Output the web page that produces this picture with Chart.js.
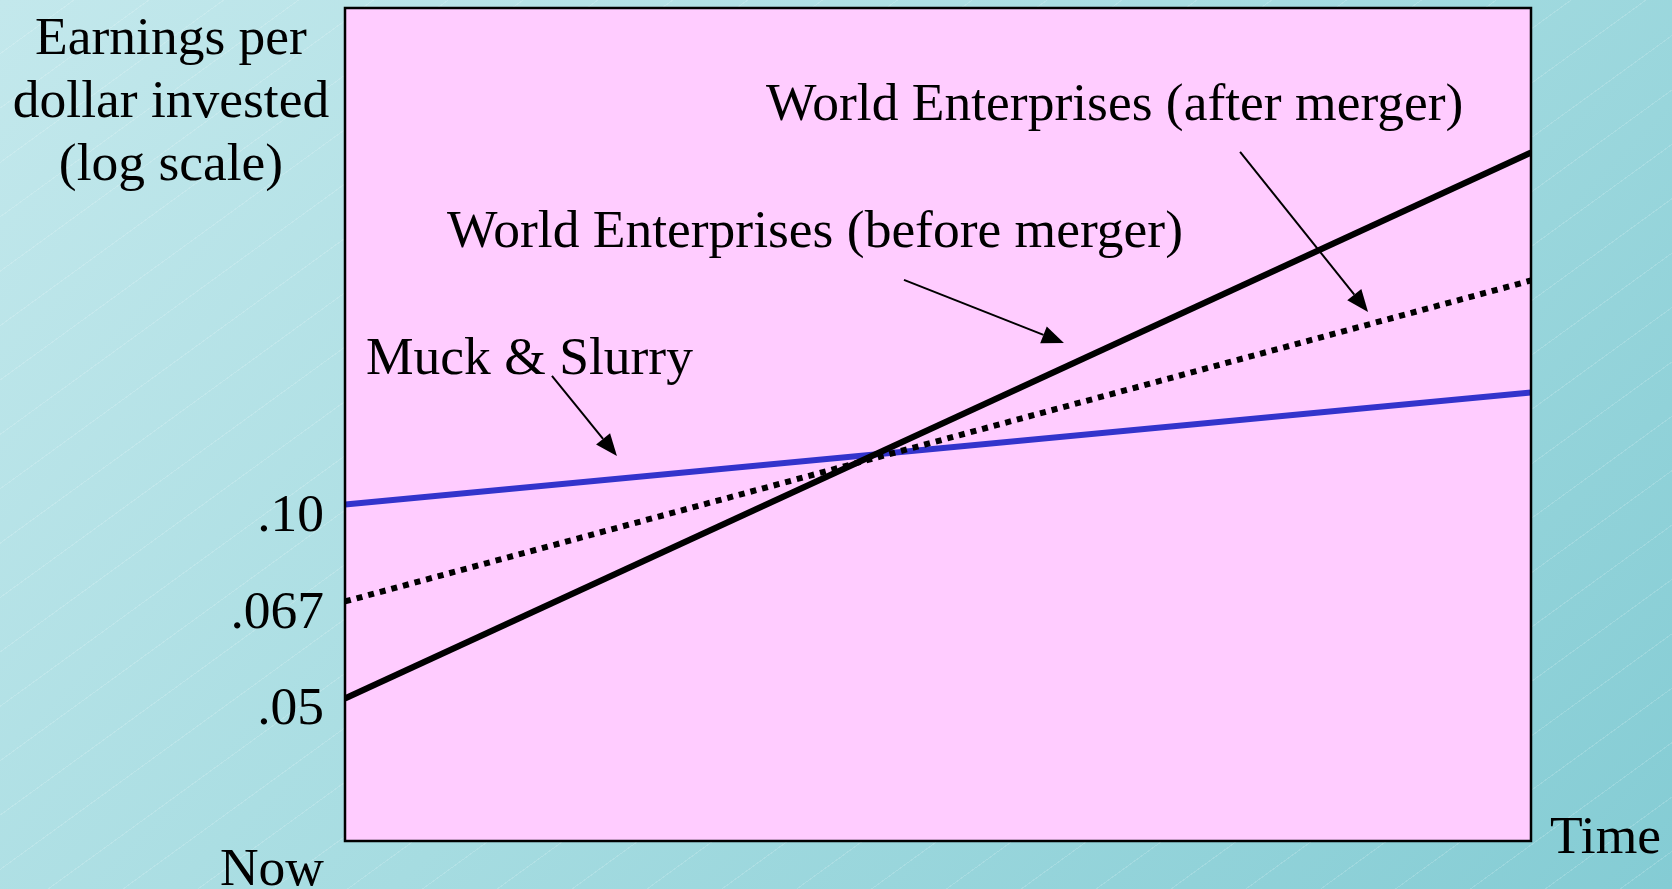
<!DOCTYPE html>
<html>
<head>
<meta charset="utf-8">
<script src="https://cdn.jsdelivr.net/npm/chart.js@4.4.0/dist/chart.umd.min.js"></script>
<style>
  html, body { margin: 0; padding: 0; }
  body {
    width: 1672px; height: 889px; overflow: hidden;
    background:
      repeating-linear-gradient(144deg, rgba(255,255,255,0) 0px, rgba(255,255,255,0) 43px, rgba(255,255,255,0.16) 43px, rgba(255,255,255,0.16) 44px),
      linear-gradient(135deg, #c3e8ec 0%, #a6dce1 50%, #84ccd4 100%);
  }
  #chart { display: block; }
</style>
</head>
<body>
<canvas id="chart" width="1672" height="889"></canvas>
<script>
// time axis runs from "Now" (0) to "Time" (10)
const xValues = [0, 10];
// log-earnings levels, one step per tick label
const afterMerger = [1, 6.63];
const beforeMerger = [2, 5.31];
const muckSlurry = [3, 4.156];
const yTickValues = [1, 2, 3];
const yTickLabels = [".05", ".067", ".10"];

const titleLines = ["Earnings per", "dollar invested", "(log scale)"];

// annotation labels, in data units (left edge, baseline)
const noteTexts = ["World Enterprises (after merger)", "World Enterprises (before merger)", "Muck & Slurry"];
const noteX = [3.55, 0.86, 0.177];
const noteY = [6.97, 5.651, 4.346];

// arrows: from (x0,y0) to tip (x1,y1), data units
const arrowFrom = [[7.547, 6.636], [4.713, 5.316], [1.745, 4.326]];
const arrowTo = [[8.626, 4.986], [6.062, 4.666], [2.293, 3.501]];

const FONT = "'Liberation Serif', 'Times New Roman', serif";

const toPoints = (vals) => xValues.map((x, i) => ({ x: x, y: vals[i] }));

// =============================
// plot box, texts and arrows
// =============================
const decorPlugin = {
  id: "decor",
  beforeDatasetsDraw(chart) {
    const { ctx, chartArea: a } = chart;
    ctx.save();
    ctx.fillStyle = "#ffccff";
    ctx.fillRect(a.left, a.top, a.right - a.left, a.bottom - a.top);
    ctx.restore();
  },
  afterDatasetsDraw(chart) {
    const { ctx, chartArea: a, scales } = chart;
    const xs = scales.x, ys = scales.y;
    ctx.save();

    // frame
    ctx.strokeStyle = "#000";
    ctx.lineWidth = 2.5;
    ctx.strokeRect(a.left, a.top, a.right - a.left, a.bottom - a.top);

    ctx.fillStyle = "#000";
    ctx.font = `53.5px ${FONT}`;
    ctx.textBaseline = "alphabetic";

    // y title
    ctx.textAlign = "center";
    titleLines.forEach((t, i) => ctx.fillText(t, 171, 54 + i * 63));

    // Now / Time
    ctx.textAlign = "right";
    ctx.fillText("Now", a.left - 21, 885);
    ctx.textAlign = "left";
    ctx.fillText("Time", a.right + 19, 853);

    // notes
    noteTexts.forEach((t, i) => {
      ctx.fillText(t, xs.getPixelForValue(noteX[i]), ys.getPixelForValue(noteY[i]));
    });

    // arrows
    ctx.lineWidth = 2;
    arrowFrom.forEach((f, i) => {
      const x0 = xs.getPixelForValue(f[0]), y0 = ys.getPixelForValue(f[1]);
      const x1 = xs.getPixelForValue(arrowTo[i][0]), y1 = ys.getPixelForValue(arrowTo[i][1]);
      const ang = Math.atan2(y1 - y0, x1 - x0);
      const len = 22, half = 9;
      const bx = x1 - len * Math.cos(ang), by = y1 - len * Math.sin(ang);
      ctx.beginPath();
      ctx.moveTo(x0, y0);
      ctx.lineTo(bx, by);
      ctx.stroke();
      ctx.beginPath();
      ctx.moveTo(x1, y1);
      ctx.lineTo(bx + half * Math.sin(ang), by - half * Math.cos(ang));
      ctx.lineTo(bx - half * Math.sin(ang), by + half * Math.cos(ang));
      ctx.closePath();
      ctx.fill();
    });

    ctx.restore();
  }
};

new Chart(document.getElementById("chart"), {
  type: "line",
  data: {
    datasets: [
      {
        label: "World Enterprises (after merger)",
        data: toPoints(afterMerger),
        borderColor: "#000000",
        borderWidth: 6.3,
        borderCapStyle: "butt",
        pointRadius: 0
      },
      {
        label: "World Enterprises (before merger)",
        data: toPoints(beforeMerger),
        borderColor: "#000000",
        borderWidth: 6,
        borderDash: [6, 6],
        borderCapStyle: "butt",
        pointRadius: 0
      },
      {
        label: "Muck & Slurry",
        data: toPoints(muckSlurry),
        borderColor: "#3333cc",
        borderWidth: 6,
        borderCapStyle: "butt",
        pointRadius: 0
      }
    ]
  },
  options: {
    responsive: false,
    animation: false,
    layout: { padding: { top: 8, right: 141, bottom: 48, left: 0 } },
    plugins: {
      legend: { display: false },
      tooltip: { enabled: false }
    },
    scales: {
      x: { type: "linear", min: 0, max: 10, display: false },
      y: {
        type: "linear",
        min: -0.47,
        max: 8.12,
        grid: { display: false, drawTicks: false },
        border: { display: false },
        afterBuildTicks: (s) => { s.ticks = yTickValues.map((v) => ({ value: v })); },
        afterFit: (s) => {
          s.width = 345;
          s.paddingTop = 0;
          s.paddingBottom = 0;
        },
        ticks: {
          autoSkip: false,
          padding: 21,
          labelOffset: 12,
          color: "#000",
          font: { family: FONT, size: 53.5 },
          callback: (v, i) => yTickLabels[i]
        }
      }
    }
  },
  plugins: [decorPlugin]
});
</script>
</body>
</html>
